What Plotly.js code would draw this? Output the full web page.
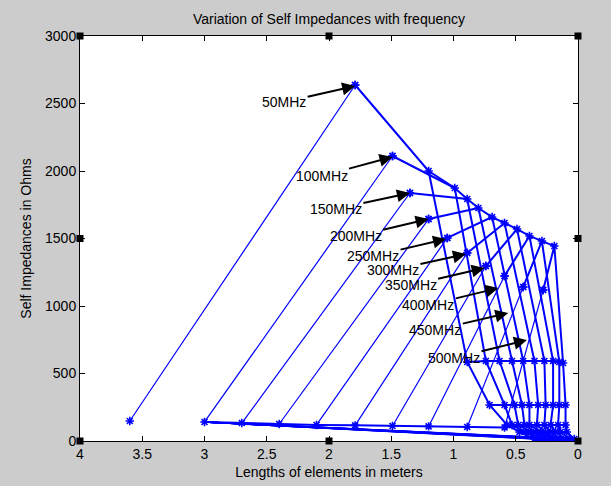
<!DOCTYPE html>
<html>
<head>
<meta charset="utf-8">
<script src="https://cdn.plot.ly/plotly-3.0.1.min.js"></script>
<style>
  html, body { margin: 0; padding: 0; background: #cccccc; }
  #chart { width: 611px; height: 486px; }
</style>
</head>
<body>
<div id="chart"></div>
<script>
// Frequencies (labels of the annotated curves)
const freqLabels = ['50MHz', '100MHz', '150MHz', '200MHz', '250MHz', '300MHz', '350MHz', '400MHz', '450MHz', '500MHz'];

// Points of each frequency curve, in order along the curve:
// start (long element), knee, top, then descending points.
// Lengths of elements in meters
const len050 = [3.60, 1.79, 1.20, 0.89, 0.71, 0.57, 0.47, 0.35];
const len100 = [3.00, 1.49, 0.99, 0.74, 0.59, 0.53, 0.42, 0.31];
const len150 = [2.70, 1.35, 0.89, 0.63, 0.51, 0.48, 0.38, 0.27];
const len200 = [2.40, 1.20, 0.80, 0.53, 0.45, 0.43, 0.34, 0.23];
const len250 = [2.10, 1.05, 0.69, 0.44, 0.39, 0.39, 0.30, 0.20];
const len300 = [1.79, 0.89, 0.59, 0.35, 0.32, 0.33, 0.26, 0.17];
const len350 = [1.49, 0.74, 0.49, 0.27, 0.26, 0.27, 0.22, 0.14];
const len400 = [1.20, 0.59, 0.39, 0.20, 0.20, 0.22, 0.18, 0.10];
const len450 = [0.89, 0.44, 0.29, 0.15, 0.15, 0.16, 0.14, 0.07];
const len500 = [0.59, 0.28, 0.19, 0.12, 0.10, 0.10, 0.09, 0.03];
// Self impedances in ohms
const z050 = [148, 2637, 2000, 585, 267, 119, 67, 15];
const z100 = [141, 2111, 1874, 593, 267, 119, 67, 15];
const z150 = [133, 1837, 1793, 593, 267, 119, 67, 15];
const z200 = [126, 1644, 1726, 593, 267, 119, 67, 15];
const z250 = [119, 1504, 1659, 593, 267, 119, 67, 15];
const z300 = [116, 1393, 1615, 593, 267, 119, 67, 15];
const z350 = [111, 1296, 1570, 593, 267, 119, 67, 15];
const z400 = [108, 1222, 1519, 593, 267, 119, 67, 15];
const z450 = [104, 1141, 1481, 585, 267, 119, 67, 15];
const z500 = [100, 1119, 1444, 578, 267, 119, 67, 15];

const xTickVals = [0, 0.5, 1, 1.5, 2, 2.5, 3, 3.5, 4];
const xTickText = ['0', '0.5', '1', '1.5', '2', '2.5', '3', '3.5', '4'];

const lens = [len050, len100, len150, len200, len250, len300, len350, len400, len450, len500];
const zs = [z050, z100, z150, z200, z250, z300, z350, z400, z450, z500];

const BLUE = '#0000ff';
const marker = { symbol: 'asterisk-open', size: 7, color: BLUE, line: { color: BLUE, width: 1.6 } };
const traces = [];

// Rising part of each curve (thin line)
lens.forEach((L, i) => {
  traces.push({ x: L.slice(0, 2), y: zs[i].slice(0, 2), mode: 'lines+markers', type: 'scatter',
    line: { color: BLUE, width: 1.2 }, marker: marker, hoverinfo: 'skip' });
});
// Descending part of each curve
lens.forEach((L, i) => {
  traces.push({ x: L.slice(1), y: zs[i].slice(1), mode: 'lines+markers', type: 'scatter',
    line: { color: BLUE, width: 2 }, marker: marker, hoverinfo: 'skip' });
});
// Cross connections: same point index across frequencies (index 2 onwards)
for (let k = 2; k < len050.length; k++) {
  traces.push({ x: lens.map(L => L[k]), y: zs.map(Z => Z[k]), mode: 'lines', type: 'scatter',
    line: { color: BLUE, width: 2 }, hoverinfo: 'skip' });
}
// Bottom row: starting points from 100MHz on
traces.push({ x: lens.slice(1).map(L => L[0]), y: zs.slice(1).map(Z => Z[0]), mode: 'lines', type: 'scatter',
  line: { color: BLUE, width: 2 }, hoverinfo: 'skip' });
// Fan from the 100MHz start point to the last point of every curve
const fx = [], fy = [];
lens.forEach((L, i) => {
  fx.push(len100[0], L[L.length - 1], null);
  fy.push(z100[0], zs[i][zs[i].length - 1], null);
});
traces.push({ x: fx, y: fy, mode: 'lines', type: 'scatter', line: { color: BLUE, width: 1.5 }, hoverinfo: 'skip' });

// Annotations: arrow head on the knee of each curve
const annOffsets = [[-71, 16], [-71, 19], [-74, 16], [-73, 17], [-73, 17], [-73, 16], [-74, 17], [-70, 17], [-73, 17], [-73, 18]];
const annHeadLen = [1.79, 1.49, 1.35, 1.20, 1.06, 0.90, 0.75, 0.64, 0.56, 0.41];
const annHeadZ = [2630, 2104, 1837, 1644, 1496, 1385, 1281, 1133, 948, 748];
const annotations = freqLabels.map((t, i) => ({
  x: annHeadLen[i], y: annHeadZ[i], xref: 'x', yref: 'y', text: t,
  showarrow: true, arrowhead: 2, arrowsize: 1.3, arrowwidth: 2, arrowcolor: '#000',
  ax: annOffsets[i][0], ay: annOffsets[i][1],
  font: { family: 'Liberation Sans, Arial, sans-serif', size: 14, color: '#000' }
}));

// Selection handles on the axes box
const W = 611, H = 486, ML = 80, MR = 33, MT = 36, MB = 45;
const pw = W - ML - MR, ph = H - MT - MB;
const hs = 3.5;
const handlePts = [[0, 1], [0.5, 1], [1, 1], [0, 0.5], [1, 0.5], [0, 0], [0.5, 0], [1, 0]];
const shapes = handlePts.map(p => ({
  type: 'rect', xref: 'paper', yref: 'paper',
  x0: p[0] - hs / pw, x1: p[0] + hs / pw, y0: p[1] - hs / ph, y1: p[1] + hs / ph,
  fillcolor: '#000', line: { width: 0 }
}));

const font = { family: 'Liberation Sans, Arial, sans-serif', size: 14, color: '#000' };
const layout = {
  width: W, height: H,
  margin: { l: ML, r: MR, t: MT, b: MB, pad: 0 },
  paper_bgcolor: '#cccccc', plot_bgcolor: '#ffffff',
  showlegend: false,
  font: font,
  title: { text: 'Variation of Self Impedances with frequency', font: font,
    x: 0.5, xref: 'paper', y: 1 - 19 / H, yref: 'container', yanchor: 'middle' },
  xaxis: {
    range: [4, 0], tickvals: xTickVals, ticktext: xTickText,
    ticks: 'inside', ticklen: 5, tickcolor: '#000', tickwidth: 1,
    showline: true, linecolor: '#000', linewidth: 1, mirror: 'ticks',
    showgrid: false, zeroline: false, tickfont: font,
    title: { text: 'Lengths of elements in meters', font: font, standoff: 6 }
  },
  yaxis: {
    range: [0, 3000], tickvals: [0, 500, 1000, 1500, 2000, 2500, 3000],
    ticks: 'inside', ticklen: 5, tickcolor: '#000', tickwidth: 1,
    showline: true, linecolor: '#000', linewidth: 1, mirror: 'ticks',
    showgrid: false, zeroline: false, tickfont: font,
    title: { text: 'Self Impedances in Ohms', font: font, standoff: 10 }
  },
  annotations: annotations,
  shapes: shapes
};

Plotly.newPlot('chart', traces, layout, { staticPlot: true, displayModeBar: false });
</script>
</body>
</html>
